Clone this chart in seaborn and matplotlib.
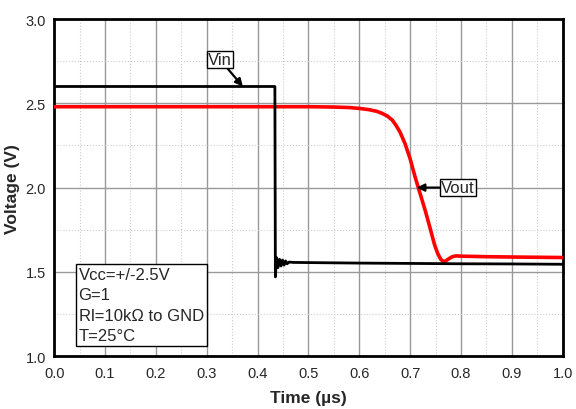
import numpy as np
import pandas as pd
import matplotlib
matplotlib.use("Agg")
import matplotlib.pyplot as plt
from matplotlib.ticker import MultipleLocator
import seaborn as sns

# ============================================================
# Data
# ============================================================
vin_t = [0.0, 0.434, 0.435, 0.437, 0.440, 0.443, 0.446, 0.449, 0.452, 0.455, 0.458,
         0.462, 0.47, 0.5, 0.6, 0.7, 0.8, 0.9, 1.0]
vin_v = [2.6, 2.6, 1.47, 1.585, 1.525, 1.575, 1.535, 1.57, 1.54, 1.565, 1.548,
         1.558, 1.556, 1.555, 1.552, 1.55, 1.548, 1.547, 1.545]

vout_t = [0.0, 0.3, 0.5, 0.55, 0.58, 0.6, 0.62, 0.635, 0.645, 0.655, 0.665, 0.672,
          0.68, 0.69, 0.70, 0.71, 0.72, 0.73, 0.74, 0.748, 0.754, 0.76, 0.765,
          0.77, 0.776, 0.783, 0.79, 0.8, 0.85, 0.9, 1.0]
vout_v = [2.48, 2.48, 2.48, 2.478, 2.475, 2.47, 2.462, 2.452, 2.44, 2.425, 2.40, 2.37,
          2.33, 2.26, 2.17, 2.06, 1.96, 1.86, 1.75, 1.66, 1.61, 1.575, 1.562,
          1.565, 1.578, 1.59, 1.595, 1.593, 1.59, 1.588, 1.585]

conditions = ["Vcc=+/-2.5V", "G=1", "Rl=10k\u03a9 to GND", "T=25\u00b0C"]

vin = pd.DataFrame({"t": vin_t, "v": vin_v})
vout = pd.DataFrame({"t": vout_t, "v": vout_v})

# ============================================================
# Plot
# ============================================================
sns.set_style("white")
plt.rcParams['font.family'] = ['Liberation Sans', 'DejaVu Sans']

fig = plt.figure(figsize=(5.76, 4.10), dpi=100)
ax = fig.add_axes([0.094, 0.129, 0.883, 0.822])

sns.lineplot(data=vin, x="t", y="v", ax=ax, color="black", lw=2.0,
             sort=False, estimator=None, zorder=4)
sns.lineplot(data=vout, x="t", y="v", ax=ax, color="#ff0000", lw=2.6,
             sort=False, estimator=None, zorder=3)

ax.set_xlim(0, 1.0)
ax.set_ylim(1.0, 3.0)
ax.xaxis.set_major_locator(MultipleLocator(0.1))
ax.xaxis.set_minor_locator(MultipleLocator(0.05))
ax.yaxis.set_major_locator(MultipleLocator(0.5))
ax.yaxis.set_minor_locator(MultipleLocator(0.25))
ax.grid(which="major", color="#999999", lw=1.0, ls="-")
ax.grid(which="minor", color="#cccccc", lw=0.8, ls=":")
ax.set_axisbelow(True)
for s in ax.spines.values():
    s.set_color("black")
    s.set_linewidth(2.0)

ax.tick_params(axis="both", which="major", labelsize=10.5, length=0)
ax.tick_params(axis="x", pad=7)
ax.tick_params(axis="y", pad=6)
ax.xaxis.set_major_formatter(plt.FormatStrFormatter("%.1f"))
ax.yaxis.set_major_formatter(plt.FormatStrFormatter("%.1f"))
ax.set_xlabel("Time (\u00b5s)", fontsize=12.5, fontweight="bold", labelpad=7)
ax.set_ylabel("Voltage (V)", fontsize=12.5, fontweight="bold", labelpad=4)

box = dict(boxstyle="square,pad=0.08", fc="white", ec="black", lw=1.0)
ax.annotate("Vin", xy=(0.371, 2.6), xytext=(0.326, 2.76), fontsize=12,
            ha="center", va="center", bbox=box,
            arrowprops=dict(arrowstyle="-|>", color="black", lw=1.6,
                            mutation_scale=11, shrinkA=0, shrinkB=0))
ax.annotate("Vout", xy=(0.713, 2.0), xytext=(0.794, 2.0), fontsize=12,
            ha="center", va="center", bbox=box,
            arrowprops=dict(arrowstyle="-|>", color="black", lw=1.6,
                            mutation_scale=11, shrinkA=0, shrinkB=0))

ax.text(0.048, 0.265, "\n".join(conditions), transform=ax.transAxes,
        fontsize=12, va="top", ha="left", linespacing=1.45,
        bbox=dict(boxstyle="square,pad=0.18", fc="white", ec="black", lw=1.0),
        zorder=6)

fig.savefig("out.png", dpi=100)
